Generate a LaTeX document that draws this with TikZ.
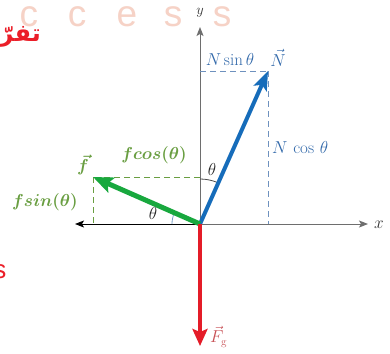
\documentclass[tikz,border=0pt]{standalone}
\usepackage{amsmath}
\usepackage{bm}
\usepackage{fontspec}
\usetikzlibrary{arrows.meta}
\newfontfamily\arabicfont[Script=Arabic]{DejaVu Sans}
\newfontfamily\wmfont{Liberation Sans}
\TeXXeTstate=1
\definecolor{nblue}{RGB}{22,108,186}
\definecolor{nlab}{RGB}{50,105,170}
\definecolor{ndash}{RGB}{110,145,190}
\definecolor{fgreen}{RGB}{24,168,62}
\definecolor{flab}{RGB}{105,158,65}
\definecolor{fgred}{RGB}{228,28,40}
\definecolor{fglab}{RGB}{200,80,85}
\definecolor{wmpink}{RGB}{246,210,198}
\definecolor{wmred}{RGB}{235,30,40}
\definecolor{axgray}{RGB}{110,110,110}
\definecolor{arcblue}{RGB}{120,160,200}
\begin{document}
\begin{tikzpicture}[x=1pt,y=-1pt,
  lbl/.style={font=\fontsize{17}{19}\selectfont, inner sep=0pt},
  wm/.style={font=\wmfont\fontsize{37}{37}\selectfont, text=wmpink, inner sep=0pt, anchor=base},
  vecN/.style={draw=nblue, line width=4pt, -{Stealth[length=19pt,width=14pt,inset=4pt]}},
  vecf/.style={draw=fgreen, line width=5pt, -{Stealth[length=20pt,width=16pt,inset=4pt]}},
  vecg/.style={draw=fgred, line width=4pt, -{Stealth[length=17pt,width=15pt,inset=3pt]}},
  ndashed/.style={draw=ndash, line width=0.8pt, dash pattern=on 6pt off 4pt},
  fdashed/.style={draw=flab, line width=1pt, dash pattern=on 6pt off 4pt},
  axis/.style={line width=1pt, -{Stealth[length=9pt,width=7pt,inset=2pt]}}]
\useasboundingbox[fill=white] (0,0) rectangle (390,353);

% watermark
\node[wm] (w1) at (29,27) {c};
\node[wm] (w2) at (77,27) {c};
\node[wm] (w3) at (127,27) {e};
\node[wm] (w4) at (173,27) {s};
\node[wm] (w5) at (222,27) {s};
\node[font=\arabicfont\bfseries\fontsize{24}{24}\selectfont, text=wmred, anchor=east, inner sep=0pt] (ar) at (41,37) {\beginR تفرّد\endR};
\node[font=\wmfont\fontsize{26}{26}\selectfont, text=wmred, inner sep=0pt] (rs) at (0,272) {s};

% points
\coordinate (O) at (200,224);
\coordinate (Ntip) at (268,71);
\coordinate (ftip) at (93,177);
\coordinate (gtip) at (200,346);
\coordinate (xL) at (75,224);
\coordinate (xR) at (368,224);
\coordinate (yT) at (200,27);
\coordinate (Ny) at (200,71);
\coordinate (Nx) at (268,224);
\coordinate (fy) at (200,177);
\coordinate (fx) at (93,224);

% axes
\draw[axis, draw=black] (O) -- (xL);
\draw[axis, draw=axgray] (O) -- (xR);
\draw[axis, draw=axgray] (O) -- (yT);
\node[lbl, font=\fontsize{15}{17}\selectfont, text=black!80] (ylab) at (200,13) {$y$};
\node[lbl, text=black!80] (xlab) at (379,225) {$x$};

% dashed components
\draw[ndashed] (Ny) -- (Ntip);
\draw[ndashed] (Ntip) -- (Nx);
\draw[fdashed] (fy) -- (ftip);
\draw[fdashed] (ftip) -- (fx);

% angle arcs
\draw[draw=black!70, line width=0.8pt] (200,179) arc[start angle=-90, end angle=-66, radius=45];
\draw[draw=arcblue, line width=0.8pt] (172,224) arc[start angle=180, end angle=204, radius=28];

% vectors
\draw[vecN] (O) -- (Ntip);
\draw[vecf] (O) -- (ftip);
\draw[vecg] (O) -- (gtip);

% labels
\node[lbl, text=nlab] (Nsin) at (230,60) {$N\sin\theta$};
\node[lbl, text=nlab] (Nlab) at (278,58) {$\vec{N}$};
\node[lbl, text=nlab, anchor=west] (Ncos) at (272,148) {$N\,\cos\,\theta$};
\node[lbl, text=flab] (flab) at (83,165) {$\bm{\vec{f}}$};
\node[lbl, text=flab] (fcos) at (154,155) {$\bm{f cos(\theta)}$};
\node[lbl, text=flab] (fsin) at (45,202) {$\bm{f sin(\theta)}$};
\node[lbl, text=black!85] (th1) at (212,169) {$\theta$};
\node[lbl, text=black!85] (th2) at (153,213) {$\theta$};
\node[lbl, font=\fontsize{16}{18}\selectfont, text=fglab, anchor=west] (Fg) at (210,337) {$\vec{F}_{\mathrm{g}}$};
\end{tikzpicture}
\end{document}
